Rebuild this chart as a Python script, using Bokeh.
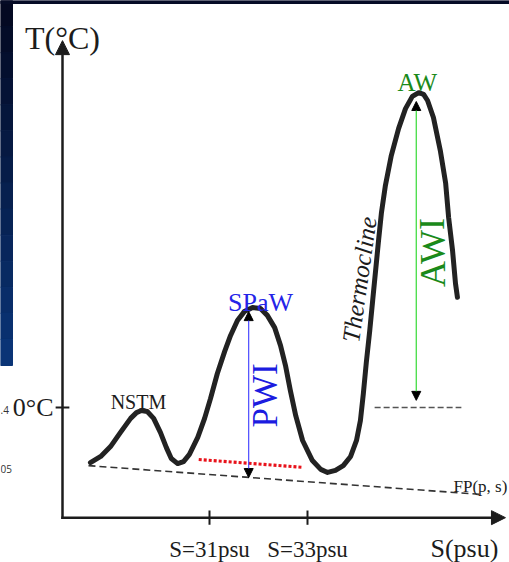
from bokeh.plotting import figure
from bokeh.models import Range1d, Arrow, NormalHead
from bokeh.embed import file_html
from bokeh.resources import INLINE
from bokeh.core.properties import value

# ---------------- data (schematic T-S diagram: S in psu, T in °C) ----------------
curve_s = [28.57, 28.78, 28.98, 29.18, 29.39, 29.51, 29.61, 29.73, 29.86, 30.00,
           30.12, 30.22, 30.35, 30.47, 30.59, 30.76, 30.90, 31.02, 31.16, 31.31,
           31.43, 31.57, 31.71, 31.88, 32.04, 32.18, 32.33, 32.45, 32.55, 32.65,
           32.76, 32.90, 33.10, 33.27, 33.41, 33.57, 33.73, 33.88, 34.00, 34.08,
           34.14, 34.20, 34.27, 34.33, 34.39, 34.45, 34.51, 34.59, 34.71, 34.86,
           35.00, 35.14, 35.27, 35.37, 35.45, 35.57, 35.71, 35.82, 35.88, 35.96,
           36.02, 36.06]
curve_t = [-1.62, -1.44, -1.15, -0.74, -0.32, -0.15, -0.09, -0.12, -0.32, -0.74,
           -1.18, -1.50, -1.65, -1.59, -1.38, -0.88, -0.32, 0.26, 1.00, 1.65,
           2.12, 2.56, 2.82, 2.94, 2.91, 2.71, 2.35, 1.82, 1.24, 0.50,
           -0.24, -0.97, -1.56, -1.82, -1.91, -1.85, -1.71, -1.44, -0.97, -0.38,
           0.41, 1.32, 2.26, 3.15, 4.03, 4.91, 5.74, 6.53, 7.41, 8.21,
           8.79, 9.15, 9.26, 9.21, 9.03, 8.53, 7.56, 6.59, 5.59, 4.62,
           3.65, 3.24]

fp_s = [28.53, 36.57]          # freezing-point line FP(p, s)
fp_t = [-1.71, -2.56]
pwi_base_s = [30.78, 32.90]    # red dotted reference
pwi_base_t = [-1.53, -1.76]
aw_base_s = [34.37, 36.14]     # dashed 0°C reference under AW
aw_base_t = [0.0, 0.0]
pwi_s = 31.80
pwi_t = [-2.06, 2.82]
awi_s = 35.22
awi_t = [0.21, 9.00]

s_ticks = [31, 33]
s_tick_labels = ["S=31psu", "S=33psu"]
t_ticks = [0]
t_tick_labels = ["0°C"]

s_origin, t_origin = 28.0, -3.24
s_axis_end, t_axis_end = 37.04, 10.79

water_labels = ["NSTM", "SPaW", "AW"]
water_s = [29.55, 32.04, 35.24]
water_t = [0.15, 3.09, 9.56]

# ---------------- layout ----------------
W, H = 509, 562
PX_S, PX_T = 49.0, 34.0      # pixels per psu / per °C
OX, OY = 62, 407             # pixel position of S=28, T=0


def sx(px):
    return 28 + (px - OX) / PX_S


def ty(py):
    return (OY - py) / PX_T


p = figure(width=W, height=H,
           x_range=Range1d(sx(0), sx(W)), y_range=Range1d(ty(H), ty(0)),
           output_backend="svg", toolbar_location=None,
           x_axis_type=None, y_axis_type=None, min_border=0,
           outline_line_color=None, background_fill_color="white",
           border_fill_color="white")

# slide background strips (dark blue gradient)
n = 14
c0 = (4, 9, 34)
c1 = (10, 52, 118)
for i in range(n):
    f = i / (n - 1)
    col = "#%02x%02x%02x" % tuple(int(a + (b - a) * f) for a, b in zip(c0, c1))
    p.quad(left=sx(0), right=sx(12), top=ty(365 * i / n), bottom=ty(365 * (i + 1) / n),
           fill_color=col, line_color=col, line_width=1)
p.quad(left=sx(0), right=sx(W), top=ty(0), bottom=ty(3), fill_color="#050b26",
       line_color="#050b26")

SERIF = value("Liberation Serif")
INK = "#1c1c1c"

# axes with arrow heads
p.add_layout(Arrow(end=NormalHead(size=14, fill_color=INK, line_color=INK),
                   x_start=s_origin, y_start=t_origin, x_end=s_origin, y_end=t_axis_end,
                   line_width=2.5, line_color=INK, line_cap="square"))
p.add_layout(Arrow(end=NormalHead(size=14, fill_color=INK, line_color=INK),
                   x_start=s_origin, y_start=t_origin, x_end=s_axis_end, y_end=t_origin,
                   line_width=2.5, line_color=INK, line_cap="square"))

# ticks
p.segment(x0=s_ticks, x1=s_ticks, y0=[t_origin - 0.21] * len(s_ticks),
          y1=[t_origin + 0.21] * len(s_ticks), line_width=2, line_color=INK)
p.segment(x0=[s_origin - 0.14] * len(t_ticks), x1=[s_origin + 0.14] * len(t_ticks),
          y0=t_ticks, y1=t_ticks, line_width=2, line_color=INK)

p.text(x=s_ticks, y=[ty(549)] * len(s_ticks), text=s_tick_labels, text_align="center",
       text_baseline="alphabetic", text_font=SERIF, text_font_size="23px", text_color=INK)
p.text(x=[sx(53)] * len(t_ticks), y=t_ticks, text=t_tick_labels, text_align="right",
       text_baseline="middle", text_font=SERIF, text_font_size="26px", text_color=INK)

# axis titles
p.text(x=[s_origin], y=[ty(37)], text=["T(°C)"], text_align="center",
       text_baseline="alphabetic", text_font=SERIF, text_font_size="32px", text_color=INK)
p.text(x=[sx(430)], y=[ty(548)], text=["S(psu)"], text_align="left",
       text_baseline="alphabetic", text_font=SERIF, text_font_size="26px", text_color=INK)

# freezing point line
p.line(fp_s, fp_t, line_color="#333333", line_width=1.6, line_dash="7 4")
p.text(x=[sx(453)], y=[ty(486)], text=["FP(p, s)"], text_align="left",
       text_baseline="alphabetic", text_font=SERIF, text_font_size="17px", text_color=INK)

# reference lines
p.line(pwi_base_s, pwi_base_t, line_color="#e8121a", line_width=3.2, line_dash="3 2")
p.line(aw_base_s, aw_base_t, line_color="#555555", line_width=1.3, line_dash="6 3")

# T-S curve
p.line(curve_s, curve_t, line_color="#222222", line_width=5, line_join="round",
       line_cap="round")

# intrusion arrows
p.add_layout(Arrow(start=NormalHead(size=9, fill_color="black", line_color="black"),
                   end=NormalHead(size=9, fill_color="black", line_color="black"),
                   x_start=pwi_s, y_start=pwi_t[0], x_end=pwi_s, y_end=pwi_t[1],
                   line_width=1.1, line_color="#3a3aff"))
p.add_layout(Arrow(start=NormalHead(size=9, fill_color="black", line_color="black"),
                   end=NormalHead(size=9, fill_color="black", line_color="black"),
                   x_start=awi_s, y_start=awi_t[0], x_end=awi_s, y_end=awi_t[1],
                   line_width=1.3, line_color="#44dd44"))

# water-mass labels
p.text(x=water_s[:1], y=water_t[:1], text=water_labels[:1], text_align="center",
       text_baseline="alphabetic", text_font=SERIF, text_font_size="20px", text_color=INK)
p.text(x=water_s[1:2], y=water_t[1:2], text=water_labels[1:2], text_align="center",
       text_baseline="alphabetic", text_font=SERIF, text_font_size="26px",
       text_color="#2424e8")
p.text(x=water_s[2:], y=water_t[2:], text=water_labels[2:], text_align="center",
       text_baseline="alphabetic", text_font=SERIF, text_font_size="25px",
       text_color="#1a8a1a")

p.text(x=[sx(265)], y=[ty(395)], text=["PWI"], angle=1.5708, text_align="center",
       text_baseline="middle", text_font=SERIF, text_font_size="35px",
       text_color="#1c1ce0")
p.text(x=[sx(432)], y=[ty(252)], text=["AWI"], angle=1.5708, text_align="center",
       text_baseline="middle", text_font=SERIF, text_font_size="36px",
       text_color="#1a8a1a")
p.text(x=[sx(359)], y=[ty(279)], text=["Thermocline"], angle=1.431, text_align="center",
       text_baseline="middle", text_font=SERIF, text_font_size="25px",
       text_font_style="italic", text_color=INK)

# stray slide text fragments at left edge
p.text(x=[sx(0), sx(0)], y=[ty(409), ty(468)], text=[".4", "05"], text_align="left",
       text_baseline="middle", text_font=value("Open Sans"), text_font_size="10px",
       text_color="#333333")

open("out.html", "w").write(file_html(p, INLINE))
